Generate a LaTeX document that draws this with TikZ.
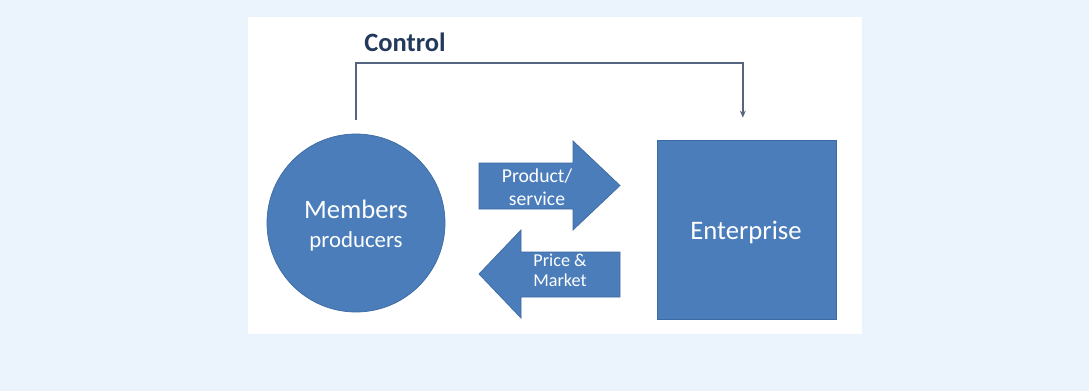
\documentclass[tikz,border=0pt]{standalone}
\usepackage{fontspec}
\setmainfont{Carlito}
\usetikzlibrary{arrows.meta}
\definecolor{pagebg}{HTML}{EBF3FC}
\definecolor{boxblue}{HTML}{4A7DBA}
\definecolor{edgeblue}{HTML}{3D6AA2}
\definecolor{ctlnavy}{HTML}{22395C}
\definecolor{ctlline}{HTML}{55647F}
\begin{document}
\begin{tikzpicture}[x=0.03cm,y=-0.03cm,
  blockfill/.style={fill=boxblue,draw=edgeblue,line width=0.6pt},
  blocktext/.style={text=white,align=center,inner sep=0pt},
  ctl/.style={draw=ctlline,line width=1.4pt,-{Stealth[length=6pt,width=5pt]}}]
\fill[pagebg] (0,0) rectangle (1089,391);
\useasboundingbox (0,0) rectangle (1089,391);
\fill[white] (248,17) rectangle (862,334);

\node[circle,blockfill,minimum size=5.34cm,inner sep=0pt] (members) at (356,223) {};
\node[rectangle,blockfill,minimum width=5.37cm,minimum height=5.37cm,inner sep=0pt] (enterprise) at (746.5,229.5) {};

\node[blocktext,font=\fontsize{22.7}{25.6}\selectfont] (memberstext) at (356,226) {Members\\[-1pt]{\fontsize{19.5}{22}\selectfont producers}};
\node[blocktext,font=\fontsize{22.8}{26}\selectfont] (enterprisetext) at (746,232) {Enterprise};

% block arrows
\draw[blockfill] (479,163) -- (573,163) -- (573,141) -- (620,185.5) -- (573,230) -- (573,209) -- (479,209) -- cycle;
\draw[blockfill] (620,252) -- (521,252) -- (521,230) -- (479,274) -- (521,318) -- (521,297) -- (620,297) -- cycle;

\node[blocktext,font=\fontsize{16.8}{19.6}\selectfont] (product) at (537,187) {Product/\\service};
\node[blocktext,font=\fontsize{15.5}{17}\selectfont] (price) at (560,270) {Price \&\\Market};

% control loop
\node[text=ctlnavy,font=\fontsize{22.6}{26}\selectfont\bfseries] (control) at (405,42) {Control};
\draw[ctl] ([yshift=0.4cm]members.north) -- ++(0,1.71cm) -| ([xshift=-0.11cm,yshift=0.66cm]enterprise.north);
\end{tikzpicture}
\end{document}
